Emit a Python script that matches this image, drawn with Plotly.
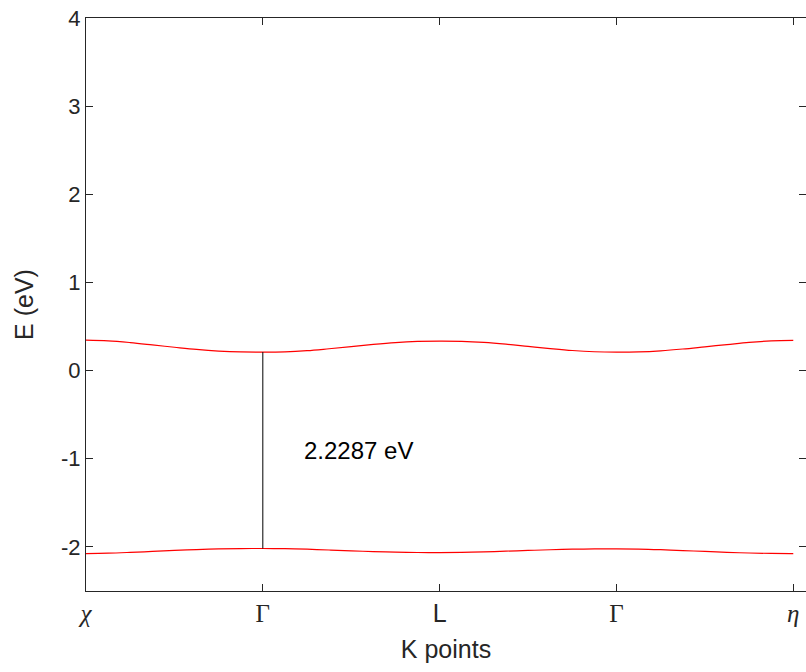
import plotly.graph_objects as go

# High-symmetry path positions (in path units) and labels
K_TICKS = [0, 1, 2, 3, 4]
K_LABELS = ["<i>χ</i>", "Γ", "<span style='font-family:Liberation Sans'>L</span>", "Γ", "<i>η</i>"]

# k samples along the path
K = [0.000, 0.125, 0.250, 0.375, 0.500, 0.625, 0.750, 0.875,
     1.000, 1.125, 1.250, 1.375, 1.500, 1.625, 1.750, 1.875,
     2.000, 2.125, 2.250, 2.375, 2.500, 2.625, 2.750, 2.875,
     3.000, 3.125, 3.250, 3.375, 3.500, 3.625, 3.750, 3.875, 4.000]

# Conduction band (eV)
E_CB = [0.346, 0.338, 0.318, 0.292, 0.265, 0.240, 0.222, 0.212,
        0.210, 0.213, 0.226, 0.248, 0.272, 0.297, 0.318, 0.331,
        0.335, 0.332, 0.320, 0.300, 0.275, 0.250, 0.228, 0.214,
        0.210, 0.213, 0.225, 0.245, 0.270, 0.295, 0.320, 0.337, 0.343]

# Valence band (eV)
E_VB = [-2.075, -2.071, -2.062, -2.051, -2.040, -2.030, -2.023, -2.019,
        -2.018, -2.020, -2.026, -2.035, -2.044, -2.053, -2.060, -2.063,
        -2.064, -2.062, -2.056, -2.048, -2.040, -2.032, -2.026, -2.023,
        -2.022, -2.024, -2.031, -2.041, -2.051, -2.061, -2.069, -2.074, -2.075]

# Band gap marker
GAP_K = 1.0
GAP_VBM = -2.018
GAP_CBM = 0.210
GAP_TEXT = "2.2287 eV"

Y_TICKS = [-2, -1, 0, 1, 2, 3, 4]

axis_color = "#262626"

fig = go.Figure()
fig.add_trace(go.Scatter(x=K, y=E_CB, mode="lines", line=dict(color="red", width=1.2, shape="spline"),
                         showlegend=False, hoverinfo="skip"))
fig.add_trace(go.Scatter(x=K, y=E_VB, mode="lines", line=dict(color="red", width=1.2, shape="spline"),
                         showlegend=False, hoverinfo="skip"))
fig.add_trace(go.Scatter(x=[GAP_K, GAP_K], y=[GAP_VBM, GAP_CBM], mode="lines",
                         line=dict(color="black", width=1), showlegend=False, hoverinfo="skip"))

fig.add_annotation(x=1.22, y=-0.91, text=GAP_TEXT, showarrow=False, xanchor="left", yanchor="middle",
                   font=dict(family="Liberation Sans, Arial", size=24, color="black"))

fig.update_xaxes(range=[0, 4.072], tickmode="array", tickvals=K_TICKS, ticktext=K_LABELS,
                 showgrid=False, zeroline=False, showline=True, linecolor=axis_color, linewidth=1,
                 mirror="ticks", ticks="inside", ticklen=7, tickcolor=axis_color,
                 tickfont=dict(family="Liberation Serif, Times New Roman", size=25, color=axis_color),
                 title=dict(text="K points", standoff=14,
                            font=dict(family="Liberation Sans, Arial", size=25, color=axis_color)))
fig.update_yaxes(range=[-2.5, 4], tickmode="array", tickvals=Y_TICKS, ticktext=[str(v) for v in Y_TICKS],
                 showgrid=False, zeroline=False, showline=True, linecolor=axis_color, linewidth=1,
                 mirror="ticks", ticks="inside", ticklen=7, tickcolor=axis_color,
                 tickfont=dict(family="Liberation Sans, Arial", size=22, color=axis_color),
                 title=dict(text="E (eV)", standoff=20,
                            font=dict(family="Liberation Sans, Arial", size=25, color=axis_color)))

fig.update_layout(width=806, height=672, margin=dict(l=86, r=0, t=18, b=81),
                  plot_bgcolor="white", paper_bgcolor="white")

fig.write_html("out.html")
